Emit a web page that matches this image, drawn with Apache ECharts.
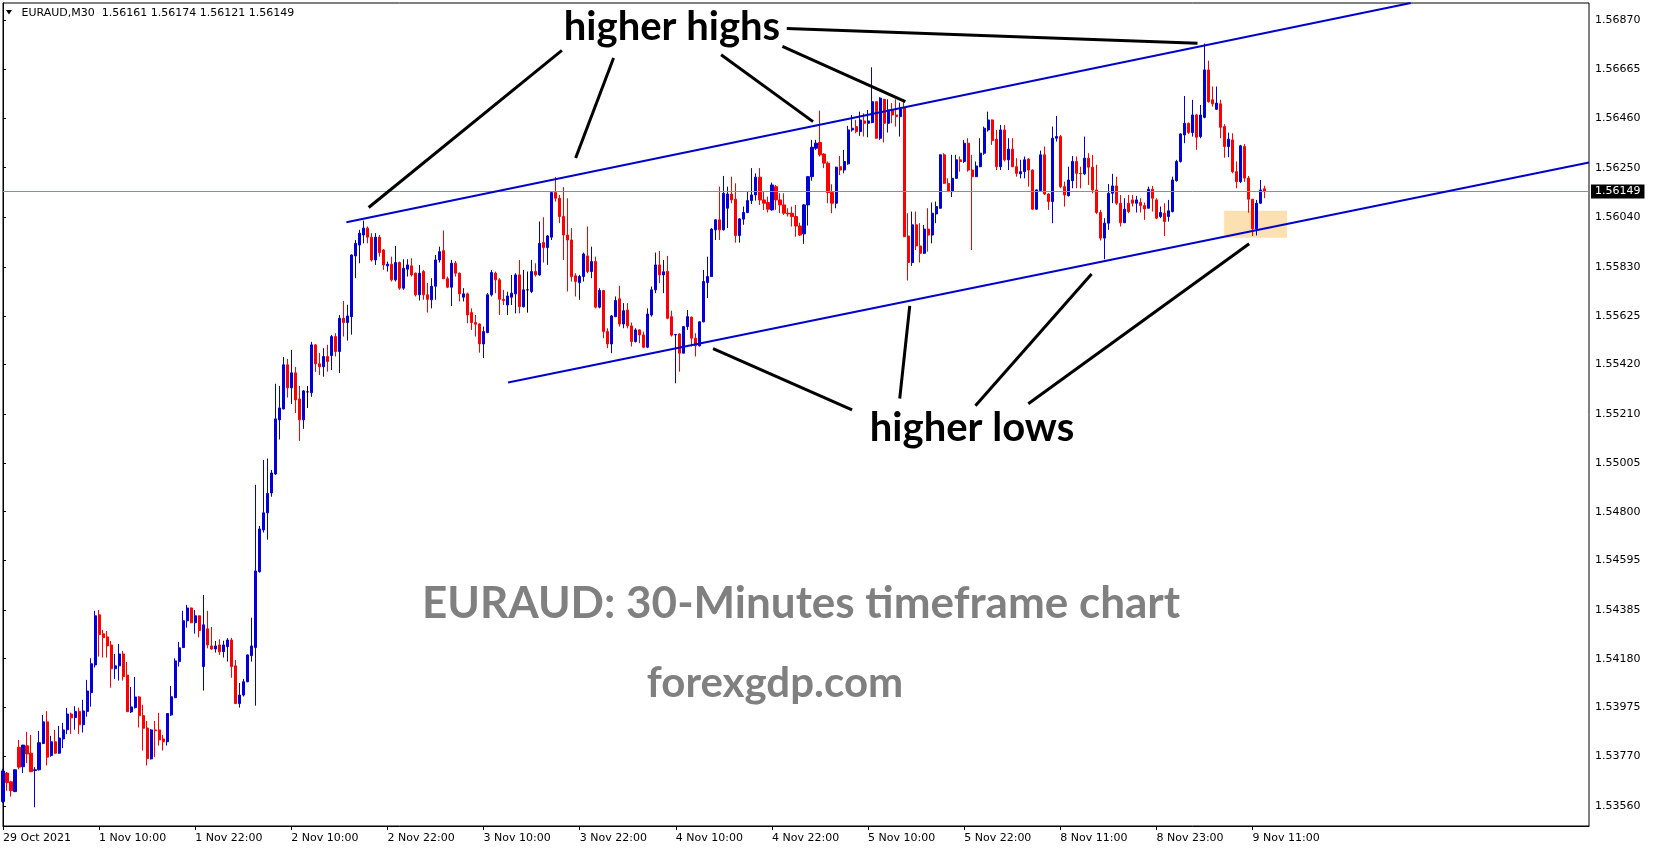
<!DOCTYPE html>
<html><head><meta charset="utf-8">
<script src="https://cdn.jsdelivr.net/npm/echarts@6/dist/echarts.min.js"></script>
<style>html,body{margin:0;padding:0;background:#fff;overflow:hidden}#c{width:1653px;height:850px}</style>
</head><body><div id="c"></div>
<script>
// ---- OHLC data, one array per trading day: [open, high, low, close]
const oct29 = [
[1.53578,1.53716,1.53572,1.53707],[1.53698,1.53703,1.53624,1.53658],[1.53661,1.53666,1.53599,1.53624],[1.53620,1.53714,1.53618,1.53712]];
const nov01 = [
[1.53807,1.53838,1.53714,1.53723],[1.53725,1.53817,1.53698,1.53816],[1.53813,1.53872,1.53740,1.53779],[1.53782,1.53859,1.53702,1.53704],
[1.53709,1.53723,1.53554,1.53712],[1.53712,1.53876,1.53709,1.53826],[1.53823,1.53943,1.53820,1.53914],[1.53914,1.53959,1.53730,1.53765],
[1.53772,1.53855,1.53767,1.53830],[1.53830,1.53880,1.53779,1.53782],[1.53782,1.53897,1.53779,1.53846],[1.53842,1.53910,1.53803,1.53880],
[1.53881,1.53973,1.53862,1.53947],[1.53947,1.53953,1.53863,1.53931],[1.53932,1.53980,1.53881,1.53958],[1.53958,1.53974,1.53863,1.53902],
[1.53902,1.54007,1.53869,1.53960],[1.53958,1.54091,1.53936,1.54044],[1.54037,1.54182,1.53978,1.54159],[1.54154,1.54382,1.54143,1.54361],
[1.54365,1.54386,1.54189,1.54282],[1.54285,1.54302,1.54185,1.54269],[1.54272,1.54297,1.54185,1.54234],[1.54238,1.54255,1.54058,1.54138],
[1.54138,1.54200,1.54095,1.54150],[1.54150,1.54242,1.54088,1.54200],[1.54200,1.54213,1.54088,1.54105],[1.54111,1.54166,1.53955,1.53957],
[1.53956,1.54061,1.53951,1.53977],[1.53974,1.54103,1.53970,1.54019],[1.54019,1.54023,1.53890,1.53940],[1.53940,1.53986,1.53793,1.53887],
[1.53888,1.53918,1.53730,1.53759],[1.53758,1.53884,1.53755,1.53880],[1.53880,1.53918,1.53765,1.53877],[1.53880,1.53952,1.53814,1.53838],
[1.53842,1.53859,1.53793,1.53830],[1.53830,1.53950,1.53814,1.53949],[1.53943,1.54065,1.53939,1.54020],[1.54016,1.54182,1.54014,1.54171],
[1.54168,1.54251,1.54147,1.54226],[1.54227,1.54382,1.54225,1.54340],[1.54340,1.54407,1.54311,1.54394],[1.54394,1.54396,1.54330,1.54332],
[1.54332,1.54385,1.54286,1.54361],[1.54361,1.54362,1.54270,1.54299],[1.54147,1.54449,1.54046,1.54323],[1.54306,1.54382,1.54224,1.54238]];
const nov02 = [
[1.54234,1.54314,1.54218,1.54221],[1.54221,1.54255,1.54206,1.54234],[1.54238,1.54262,1.54196,1.54209],[1.54210,1.54256,1.54185,1.54238],
[1.54231,1.54267,1.54168,1.54259],[1.54259,1.54268,1.54100,1.54147],[1.54150,1.54175,1.53989,1.53991],[1.53991,1.54078,1.53974,1.54027],
[1.54027,1.54095,1.54021,1.54083],[1.54083,1.54198,1.54081,1.54196],[1.54193,1.54353,1.54168,1.54234],[1.54227,1.54913,1.53982,1.54550],
[1.54547,1.54740,1.54543,1.54727],[1.54723,1.55018,1.54712,1.54795],[1.54795,1.55024,1.54682,1.54877],[1.54879,1.54976,1.54863,1.54963],
[1.54959,1.55339,1.54955,1.55191],[1.55187,1.55330,1.55104,1.55237],[1.55233,1.55452,1.55231,1.55419],[1.55419,1.55444,1.55281,1.55322],
[1.55322,1.55482,1.55254,1.55385],[1.55385,1.55410,1.55216,1.55271],[1.55275,1.55330,1.55098,1.55187],[1.55187,1.55313,1.55149,1.55309],
[1.55305,1.55330,1.55237,1.55305],[1.55301,1.55516,1.55284,1.55503],[1.55503,1.55505,1.55389,1.55423],[1.55423,1.55469,1.55376,1.55411],
[1.55411,1.55489,1.55369,1.55454],[1.55454,1.55503,1.55390,1.55433],[1.55458,1.55545,1.55397,1.55538],[1.55538,1.55552,1.55454,1.55475],
[1.55475,1.55629,1.55384,1.55615],[1.55615,1.55688,1.55538,1.55597],[1.55597,1.55672,1.55521,1.55625],[1.55622,1.55884,1.55546,1.55882],
[1.55878,1.55945,1.55784,1.55931],[1.55924,1.55988,1.55847,1.55974],[1.55966,1.56027,1.55931,1.55995],[1.55995,1.56002,1.55931,1.55957],
[1.55957,1.55974,1.55854,1.55861],[1.55861,1.55974,1.55840,1.55957],[1.55957,1.55966,1.55875,1.55892],[1.55903,1.55906,1.55819,1.55840],
[1.55836,1.55854,1.55812,1.55843],[1.55843,1.55875,1.55770,1.55777],[1.55777,1.55920,1.55770,1.55850],[1.55850,1.55854,1.55735,1.55742]];
const nov03 = [
[1.55742,1.55864,1.55735,1.55826],[1.55822,1.55864,1.55791,1.55840],[1.55836,1.55868,1.55791,1.55798],[1.55805,1.55808,1.55707,1.55714],
[1.55714,1.55840,1.55690,1.55805],[1.55812,1.55819,1.55693,1.55714],[1.55714,1.55764,1.55639,1.55695],[1.55693,1.55784,1.55657,1.55750],
[1.55750,1.55882,1.55693,1.55861],[1.55861,1.55917,1.55850,1.55896],[1.55900,1.55985,1.55780,1.55782],[1.55782,1.55791,1.55742,1.55746],
[1.55746,1.55861,1.55667,1.55847],[1.55847,1.55857,1.55791,1.55805],[1.55805,1.55808,1.55686,1.55718],[1.55704,1.55742,1.55686,1.55718],
[1.55718,1.55723,1.55594,1.55629],[1.55639,1.55657,1.55566,1.55597],[1.55597,1.55629,1.55538,1.55590],[1.55591,1.55594,1.55470,1.55507],
[1.55507,1.55580,1.55447,1.55559],[1.55555,1.55721,1.55552,1.55714],[1.55714,1.55819,1.55707,1.55808],[1.55805,1.55812,1.55721,1.55777],
[1.55777,1.55784,1.55629,1.55695],[1.55695,1.55735,1.55671,1.55690],[1.55671,1.55727,1.55629,1.55709],[1.55704,1.55798,1.55671,1.55721],
[1.55718,1.55805,1.55636,1.55798],[1.55798,1.55861,1.55636,1.55664],[1.55664,1.55819,1.55660,1.55735],[1.55735,1.55812,1.55639,1.55735],
[1.55728,1.55861,1.55721,1.55812],[1.55812,1.55847,1.55791,1.55798],[1.55798,1.56023,1.55794,1.55931],[1.55934,1.56041,1.55850,1.55913],
[1.55913,1.55966,1.55840,1.55962],[1.55957,1.56149,1.55945,1.56145],[1.56145,1.56211,1.56107,1.56121],[1.56121,1.56135,1.56016,1.56044],
[1.56044,1.56168,1.55861,1.55966],[1.55966,1.56121,1.55728,1.55945],[1.55945,1.55995,1.55770,1.55791],[1.55794,1.55805,1.55707,1.55770],
[1.55765,1.55798,1.55693,1.55791],[1.55791,1.55892,1.55770,1.55886],[1.55878,1.56002,1.55805,1.55812],[1.55812,1.55917,1.55784,1.55854]];
const nov04 = [
[1.55854,1.55875,1.55657,1.55662],[1.55662,1.55742,1.55657,1.55732],[1.55732,1.55735,1.55531,1.55559],[1.55559,1.55573,1.55489,1.55507],
[1.55507,1.55629,1.55468,1.55625],[1.55622,1.55707,1.55620,1.55690],[1.55697,1.55752,1.55580,1.55591],[1.55591,1.55679,1.55573,1.55647],
[1.55650,1.55679,1.55573,1.55583],[1.55583,1.55597,1.55496,1.55517],[1.55517,1.55573,1.55513,1.55566],[1.55566,1.55569,1.55510,1.55545],
[1.55545,1.55559,1.55489,1.55493],[1.55493,1.55657,1.55489,1.55633],[1.55629,1.55749,1.55622,1.55735],[1.55735,1.55892,1.55721,1.55840],
[1.55840,1.55899,1.55763,1.55798],[1.55798,1.55861,1.55721,1.55811],[1.55813,1.55878,1.55611,1.55615],[1.55622,1.55647,1.55538,1.55544],
[1.55545,1.55549,1.55341,1.55547],[1.55549,1.55552,1.55390,1.55468],[1.55468,1.55582,1.55468,1.55580],[1.55580,1.55650,1.55566,1.55622],
[1.55620,1.55622,1.55496,1.55531],[1.55531,1.55552,1.55454,1.55499],[1.55499,1.55602,1.55496,1.55600],[1.55600,1.55819,1.55598,1.55770],
[1.55766,1.55875,1.55700,1.55791],[1.55791,1.55995,1.55789,1.55991],[1.55988,1.56033,1.55945,1.56030],[1.56030,1.56170,1.55945,1.55988],
[1.55988,1.56215,1.55985,1.56142],[1.56079,1.56170,1.55995,1.56139],[1.56139,1.56212,1.56100,1.56114],[1.56117,1.56184,1.55934,1.55964],
[1.55964,1.56037,1.55934,1.56034],[1.56033,1.56086,1.56009,1.56061],[1.56061,1.56149,1.56058,1.56111],[1.56111,1.56248,1.56097,1.56135],
[1.56135,1.56226,1.56111,1.56210],[1.56210,1.56248,1.56093,1.56114],[1.56114,1.56149,1.56072,1.56100],[1.56103,1.56128,1.56061,1.56075],
[1.56072,1.56187,1.56069,1.56177],[1.56170,1.56177,1.56072,1.56114],[1.56114,1.56142,1.56058,1.56093],[1.56093,1.56142,1.56051,1.56058]];
const nov05 = [
[1.56058,1.56079,1.56044,1.56055],[1.56058,1.56086,1.56002,1.56044],[1.56044,1.56093,1.55959,1.56004],[1.56004,1.56018,1.55962,1.55966],
[1.55971,1.56097,1.55929,1.56093],[1.56093,1.56215,1.56006,1.56212],[1.56212,1.56367,1.56195,1.56336],[1.56332,1.56367,1.56325,1.56353],
[1.56356,1.56490,1.56297,1.56304],[1.56307,1.56311,1.56248,1.56269],[1.56269,1.56276,1.56100,1.56145],[1.56145,1.56180,1.56058,1.56100],
[1.56100,1.56254,1.56079,1.56252],[1.56254,1.56299,1.56219,1.56240],[1.56240,1.56325,1.56226,1.56276],[1.56266,1.56426,1.56262,1.56409],
[1.56409,1.56472,1.56402,1.56416],[1.56423,1.56451,1.56395,1.56402],[1.56402,1.56486,1.56384,1.56451],[1.56447,1.56479,1.56381,1.56437],
[1.56437,1.56493,1.56378,1.56447],[1.56440,1.56673,1.56437,1.56528],[1.56528,1.56530,1.56372,1.56374],[1.56374,1.56547,1.56367,1.56543],
[1.56538,1.56540,1.56356,1.56437],[1.56437,1.56538,1.56398,1.56493],[1.56493,1.56522,1.56437,1.56472],[1.56472,1.56538,1.56423,1.56465],
[1.56465,1.56524,1.56381,1.56501],[1.56501,1.56538,1.55957,1.55959],[1.55962,1.56058,1.55774,1.55850],[1.55850,1.56065,1.55836,1.56009],
[1.56009,1.56065,1.55903,1.55920],[1.55920,1.56016,1.55850,1.55889],[1.55889,1.56009,1.55886,1.55991],[1.55991,1.56079,1.55896,1.55966],
[1.55966,1.56103,1.55931,1.56058],[1.56055,1.56107,1.56016,1.56086],[1.56079,1.56306,1.56077,1.56304],[1.56304,1.56311,1.56181,1.56184],
[1.56184,1.56205,1.56147,1.56149],[1.56149,1.56304,1.56126,1.56205],[1.56205,1.56304,1.56203,1.56283],[1.56283,1.56297,1.56233,1.56276],
[1.56276,1.56367,1.56269,1.56353],[1.56353,1.56374,1.56233,1.56240]];
const nov08 = [
[1.56240,1.56304,1.55903,1.56212],[1.56212,1.56276,1.56210,1.56257],[1.56254,1.56374,1.56252,1.56311],[1.56311,1.56423,1.56304,1.56416],
[1.56409,1.56486,1.56402,1.56451],[1.56451,1.56453,1.56346,1.56364],[1.56370,1.56409,1.56240,1.56254],[1.56254,1.56430,1.56240,1.56409],
[1.56409,1.56430,1.56276,1.56283],[1.56283,1.56374,1.56240,1.56328],[1.56328,1.56374,1.56252,1.56254],[1.56254,1.56290,1.56212,1.56226],
[1.56224,1.56283,1.56205,1.56233],[1.56233,1.56297,1.56205,1.56283],[1.56286,1.56290,1.56170,1.56240],[1.56240,1.56242,1.56072,1.56075],
[1.56075,1.56159,1.56072,1.56156],[1.56153,1.56322,1.56151,1.56304],[1.56304,1.56339,1.56135,1.56139],[1.56139,1.56142,1.56072,1.56107],
[1.56107,1.56423,1.56016,1.56374],[1.56374,1.56468,1.56360,1.56381],[1.56381,1.56388,1.56163,1.56170],[1.56170,1.56191,1.56086,1.56135],
[1.56132,1.56254,1.56128,1.56198],[1.56195,1.56299,1.56163,1.56276],[1.56276,1.56297,1.56163,1.56226],[1.56226,1.56254,1.56163,1.56224],
[1.56224,1.56381,1.56219,1.56290],[1.56290,1.56311,1.56177,1.56252],[1.56252,1.56304,1.56142,1.56156],[1.56156,1.56262,1.56055,1.56061],
[1.56061,1.56072,1.55943,1.55953],[1.55953,1.56037,1.55864,1.56016],[1.56016,1.56181,1.55988,1.56142],[1.56142,1.56224,1.56100,1.56173],
[1.56173,1.56212,1.56093,1.56100],[1.56100,1.56135,1.56002,1.56018],[1.56018,1.56121,1.56016,1.56075],[1.56100,1.56135,1.56058,1.56065],
[1.56114,1.56135,1.56086,1.56100],[1.56100,1.56131,1.56061,1.56114],[1.56103,1.56121,1.56061,1.56090],[1.56090,1.56103,1.56030,1.56076],
[1.56079,1.56170,1.56077,1.56159],[1.56159,1.56173,1.56065,1.56121],[1.56114,1.56121,1.56033,1.56037],[1.56044,1.56086,1.56037,1.56061]];
const nov09 = [
[1.56058,1.56100,1.55962,1.56023],[1.56044,1.56114,1.56023,1.56068],[1.56065,1.56212,1.56061,1.56198],[1.56195,1.56283,1.56191,1.56276],
[1.56276,1.56395,1.56271,1.56392],[1.56388,1.56552,1.56353,1.56437],[1.56437,1.56440,1.56392,1.56398],[1.56398,1.56536,1.56381,1.56472],
[1.56472,1.56477,1.56325,1.56378],[1.56381,1.56514,1.56374,1.56472],[1.56462,1.56773,1.56458,1.56662],[1.56662,1.56701,1.56524,1.56528],
[1.56536,1.56592,1.56507,1.56519],[1.56496,1.56592,1.56493,1.56522],[1.56519,1.56536,1.56374,1.56420],[1.56423,1.56433,1.56292,1.56339],
[1.56339,1.56398,1.56294,1.56370],[1.56367,1.56395,1.56226,1.56233],[1.56233,1.56276,1.56163,1.56191],[1.56191,1.56346,1.56185,1.56342],
[1.56339,1.56350,1.56190,1.56206],[1.56206,1.56215,1.56060,1.56117],[1.56117,1.56118,1.55962,1.55992],[1.55992,1.56114,1.55964,1.56100],
[1.56100,1.56198,1.56097,1.56156],[1.56161,1.56174,1.56121,1.56149]];

// ---- axis tick labels
const xTickLabels = ["29 Oct 2021","1 Nov 10:00","1 Nov 22:00","2 Nov 10:00","2 Nov 22:00","3 Nov 10:00","3 Nov 22:00","4 Nov 10:00","4 Nov 22:00","5 Nov 10:00","5 Nov 22:00","8 Nov 11:00","8 Nov 23:00","9 Nov 11:00"];
const yTickLabels = ["1.56870","1.56665","1.56460","1.56250","1.56040","1.55830","1.55625","1.55420","1.55210","1.55005","1.54800","1.54595","1.54385","1.54180","1.53975","1.53770","1.53560"];
const lastPrice = 1.56149;
const headerText = "EURAUD,M30  1.56161 1.56174 1.56121 1.56149";

// ---- drawn objects in chart coordinates: [barIndex1, price1, barIndex2, price2]
const channelLines = [[85.75,1.56020,351.5,1.56944],[126.1,1.55344,396,1.56272]];
const arrowLines = [
 [139.55,1.56744,91.3,1.56082],[152.45,1.56712,142.98,1.56291],[179.3,1.56726,202.25,1.56444],
 [194.6,1.56761,225.3,1.56528],[195.7,1.56837,298.25,1.56774],
 [177.3,1.55487,212.0,1.55229],[226.4,1.55667,223.9,1.55277],[271.8,1.55802,242.8,1.55246],[311.15,1.55929,256.0,1.55255]];
const zoneBox = [304.9,1.56068,320.6,1.55955];

const days = [oct29,nov01,nov02,nov03,nov04,nov05,nov08,nov09];
const ohlc = [].concat(...days);
const slots = 397;
const categories = Array.from({length: slots}, (_, i) => String(i));
const candleData = ohlc.map(b => [b[0], b[3], b[2], b[1]]);
const yTickValues = yTickLabels.map(Number);
const yMin = 1.53475, yMax = 1.56944;

const tickAt = (i) => i % 24 === 0 && i / 24 < xTickLabels.length;
const axisFont = {fontFamily: 'DejaVu Sans', fontSize: 11, color: '#000'};

const chart = echarts.init(document.getElementById('c'), null, {renderer: 'canvas'});
chart.setOption({
  animation: false,
  backgroundColor: '#fff',
  grid: {left: 3, top: 3, right: 64, bottom: 24, show: true, borderColor: '#000', borderWidth: 1, backgroundColor: 'transparent', containLabel: false, outerBoundsMode: 'none'},
  xAxis: [{
    type: 'category', data: categories, boundaryGap: false,
    axisLine: {show: true, lineStyle: {color: '#000', width: 1}},
    axisTick: {show: true, length: 4, interval: (i) => tickAt(i), lineStyle: {color: '#000'}},
    axisLabel: Object.assign({interval: (i) => tickAt(i), formatter: (v, i) => xTickLabels[i / 24] || '', align: 'left', margin: 7}, axisFont),
    splitLine: {show: false}
  }, {
    type: 'value', min: 0, max: slots - 1, show: false, gridIndex: 0
  }],
  yAxis: [{
    type: 'value', position: 'right', min: yMin, max: yMax,
    axisLine: {show: true, lineStyle: {color: '#000', width: 1}},
    axisTick: {show: true, length: 3, customValues: yTickValues, lineStyle: {color: '#000'}},
    axisLabel: Object.assign({customValues: yTickValues, formatter: (v) => v.toFixed(5), margin: 6}, axisFont),
    splitLine: {show: false}
  }],
  series: [{
    type: 'line', xAxisIndex: 1, yAxisIndex: 0, data: [], z: 1, silent: true,
    markArea: {silent: true, itemStyle: {color: '#fde0b2'}, data: [[{coord: [zoneBox[0], zoneBox[1]]}, {coord: [zoneBox[2], zoneBox[3]]}]]},
    markLine: {silent: true, symbol: 'none',
      label: {show: true, position: 'end', formatter: lastPrice.toFixed(5), backgroundColor: '#000', color: '#fff', padding: [2, 4, 1, 4], distance: 2, fontFamily: 'DejaVu Sans', fontSize: 11},
      lineStyle: {color: '#8b8f98', width: 1, type: 'solid'},
      data: [[{coord: [0, lastPrice]}, {coord: [slots - 1, lastPrice]}]]}
  }, {
    type: 'candlestick', xAxisIndex: 0, yAxisIndex: 0, data: candleData, z: 2, barWidth: 2.6, clip: true,
    itemStyle: {color: '#0000d8', color0: '#ff0000', borderColor: '#0000d8', borderColor0: '#ff0000', borderColorDoji: '#000', borderWidth: 1}
  }, {
    type: 'line', xAxisIndex: 1, yAxisIndex: 0, data: [], z: 3, silent: true,
    markLine: {silent: true, symbol: 'none', label: {show: false},
      data: channelLines.map(l => [{coord: [l[0], l[1]], lineStyle: {color: '#0000cd', width: 2, type: 'solid'}}, {coord: [l[2], l[3]]}])
        .concat(arrowLines.map(l => [{coord: [l[0], l[1]], lineStyle: {color: '#000', width: 3, type: 'solid'}}, {coord: [l[2], l[3]]}]))}
  }],
  graphic: [
    {type: 'polygon', z: 10, shape: {points: [[6, 10], [12, 10], [9, 14.5]]}, style: {fill: '#000'}},
    {type: 'text', z: 10, x: 21.5, y: 13, style: {text: headerText, fill: '#000', font: '11px "DejaVu Sans"', textVerticalAlign: 'middle'}},
    {type: 'text', z: 10, x: 672, y: 27, style: {text: 'higher highs', fill: '#000', font: 'bold 40px Lato', textAlign: 'center', textVerticalAlign: 'middle'}},
    {type: 'text', z: 10, x: 972, y: 428, style: {text: 'higher lows', fill: '#000', font: 'bold 40px Lato', textAlign: 'center', textVerticalAlign: 'middle'}},
    {type: 'text', z: 10, x: 801, y: 604, style: {text: 'EURAUD: 30-Minutes timeframe chart', fill: '#808080', font: 'bold 44px Lato', textAlign: 'center', textVerticalAlign: 'middle'}},
    {type: 'text', z: 10, x: 775, y: 683, style: {text: 'forexgdp.com', fill: '#808080', font: 'bold 42px Lato', textAlign: 'center', textVerticalAlign: 'middle'}}
  ]
});
</script>
</body></html>
